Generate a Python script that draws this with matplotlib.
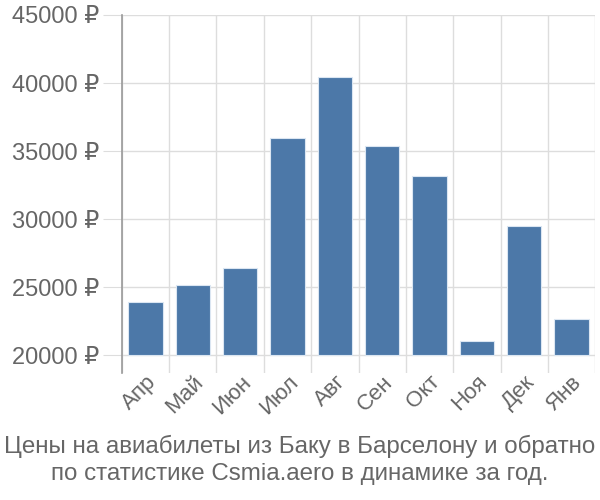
import matplotlib
matplotlib.use("Agg")
import matplotlib.pyplot as plt
import numpy as np

plt.rcParams['font.family'] = ['Liberation Sans', 'DejaVu Sans']

months = ["Апр", "Май", "Июн", "Июл", "Авг", "Сен", "Окт", "Ноя", "Дек", "Янв"]
prices = [23950, 25200, 26450, 35950, 40420, 35380, 33150, 21020, 29480, 22650]
yticks = [20000, 25000, 30000, 35000, 40000, 45000]
ytick_labels = ["20000 ₽", "25000 ₽", "30000 ₽", "35000 ₽", "40000 ₽", "45000 ₽"]
caption = "Цены на авиабилеты из Баку в Барселону и обратно\nпо статистике Csmia.aero в динамике за год."

base = 20000
fig = plt.figure(figsize=(6, 5), dpi=100)
ax = fig.add_axes([0.203, 0.254, 0.789, 0.716])

x = np.arange(len(months))
ax.bar(x, [p - base for p in prices], bottom=base, width=0.72,
       color="#4c78a8", edgecolor="#dbe6f2", linewidth=0.8, zorder=3)

ax.set_xlim(-0.5, len(months) - 0.5)
ax.set_ylim(18700, 45000)

ax.set_yticks(yticks)
ax.set_yticklabels(ytick_labels)
ax.set_xticks(x)
ax.set_xticklabels(months, rotation=45, ha="right", va="top", rotation_mode="anchor")
ax.set_xticks(np.arange(-0.5, len(months)), minor=True)

ax.grid(axis="y", color="#dddddd", linewidth=1, zorder=0)
ax.grid(axis="x", which="minor", color="#dddddd", linewidth=1, zorder=0)
ax.tick_params(axis="y", length=14, color="#dddddd", labelsize=17, labelcolor="#666666", pad=2)
ax.tick_params(axis="x", which="major", length=0, labelsize=16, labelcolor="#666666", pad=-1)
ax.tick_params(axis="x", which="minor", length=0)

for s in ["top", "right", "bottom"]:
    ax.spines[s].set_visible(False)
ax.spines["left"].set_color("#999999")
ax.spines["left"].set_linewidth(1.2)

fig.text(0.5, 0.080, caption, ha="center", va="center", fontsize=17.4,
         color="#666666", linespacing=1.28)

fig.savefig("out.png", dpi=100)
